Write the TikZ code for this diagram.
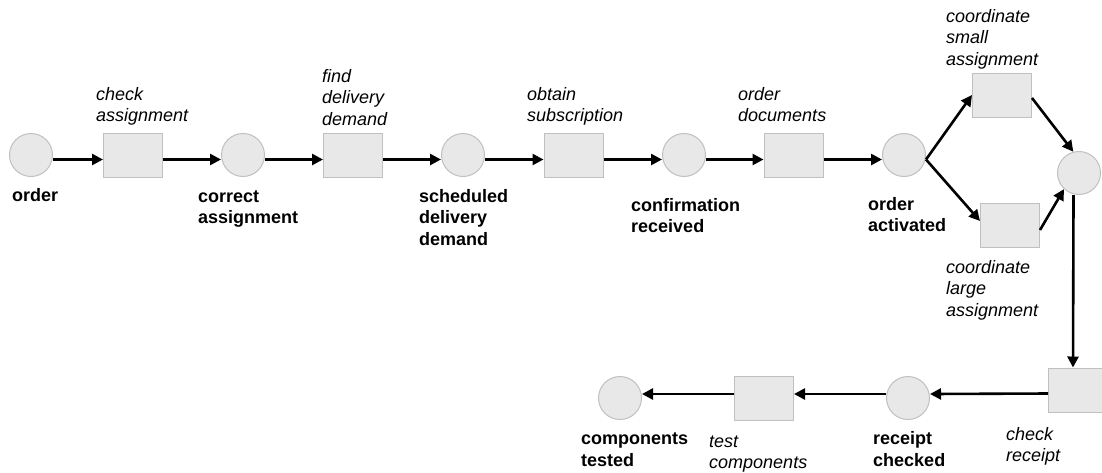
\documentclass[tikz,border=0pt]{standalone}
\usepackage{fontspec}
\setmainfont{Liberation Sans}
\usetikzlibrary{arrows.meta}
\definecolor{shapefill}{HTML}{E8E8E8}
\definecolor{shapeline}{HTML}{C0C0C0}
\begin{document}
\begin{tikzpicture}[x=1pt,y=-1pt,
  place/.style={circle,draw=shapeline,fill=shapefill,line width=1pt,minimum size=43pt,inner sep=0pt},
  trans/.style={rectangle,draw=shapeline,fill=shapefill,line width=1pt,minimum width=59pt,minimum height=44pt,inner sep=0pt},
  plabel/.style={anchor=north west,inner sep=0pt,align=left,font=\fontsize{18}{21.5}\selectfont\bfseries},
  tlabel/.style={anchor=north west,inner sep=0pt,align=left,font=\fontsize{18}{21.5}\selectfont\itshape},
  flow/.style={-{Triangle[length=11pt,width=11pt]},line width=2.6pt}]
\clip (0,0) rectangle (1102,472);
\fill[white] (0,0) rectangle (1102,472);
% places
\node[place] (p1) at (31,155) {};
\node[place] (p2) at (243,155) {};
\node[place] (p3) at (463,155) {};
\node[place] (p4) at (684,155) {};
\node[place] (p5) at (904,155) {};
\node[place] (p6) at (1079,173) {};
\node[place] (p7) at (908,398) {};
\node[place] (p8) at (620,398) {};
% transitions
\node[trans] (t1) at (133,155) {};
\node[trans] (t2) at (353,155) {};
\node[trans] (t3) at (573.5,155) {};
\node[trans] (t4) at (793.5,155) {};
\node[trans] (t5) at (1002,95) {};
\node[trans] (t6) at (1010,225) {};
\node[trans] (t7) at (1078,390) {};
\node[trans] (t8) at (764,398) {};
% place labels
\node[plabel] (lp1) at (12,186) {\strut order};
\node[plabel] (lp2) at (198,187) {\strut correct\\assignment};
\node[plabel] (lp3) at (419,187) {\strut scheduled\\delivery\\demand};
\node[plabel] (lp4) at (631,196) {\strut confirmation\\received};
\node[plabel] (lp5) at (868,195) {\strut order\\activated};
\node[plabel] (lp7) at (873,429.5) {\strut receipt\\checked};
\node[plabel] (lp8) at (581,429.5) {\strut components\\tested};
% transition labels
\node[tlabel] (lt1) at (96,85) {\strut check\\assignment};
\node[tlabel] (lt2) at (322,67) {\strut find\\delivery\\demand};
\node[tlabel] (lt3) at (527,85) {\strut obtain\\subscription};
\node[tlabel] (lt4) at (738,85) {\strut order\\documents};
\node[tlabel] (lt5) at (946,7) {\strut coordinate\\small\\assignment};
\node[tlabel] (lt6) at (946,258) {\strut coordinate\\large\\assignment};
\node[tlabel] (lt7) at (1006,425) {\strut check\\receipt};
\node[tlabel] (lt8) at (709,432) {\strut test\\components};
% arcs
\draw[flow] ([yshift=-4.5pt]p1.east) -- ([yshift=-4.5pt]t1.west);
\draw[flow] ([yshift=-4.5pt]t1.east) -- ([yshift=-4.5pt]p2.west);
\draw[flow] ([yshift=-4.5pt]p2.east) -- ([yshift=-4.5pt]t2.west);
\draw[flow] ([yshift=-4.5pt]t2.east) -- ([yshift=-4.5pt]p3.west);
\draw[flow] ([yshift=-4.5pt]p3.east) -- ([yshift=-4.5pt]t3.west);
\draw[flow] ([yshift=-4.5pt]t3.east) -- ([yshift=-4.5pt]p4.west);
\draw[flow] ([yshift=-4.5pt]p4.east) -- ([yshift=-4.5pt]t4.west);
\draw[flow] ([yshift=-4.5pt]t4.east) -- ([yshift=-4.5pt]p5.west);
\draw[flow] ([yshift=-4.5pt]p5.east) -- (t5.west);
\draw[flow] ([yshift=-4.5pt]p5.east) -- ([yshift=4pt]t6.west);
\draw[flow] ([yshift=-3pt]t5.east) -- (p6.105);
\draw[flow] ([yshift=-5pt]t6.east) -- (p6.227);
\draw[flow] ([xshift=-5.5pt]p6.south) -- ([xshift=-5pt]t7.north);
\draw[flow] ([yshift=-3.5pt]t7.west) -- ([yshift=4pt]p7.east);
\draw[flow] ([yshift=4pt]p7.west) -- ([yshift=4pt]t8.east);
\draw[flow] ([yshift=4pt]t8.west) -- ([yshift=4pt]p8.east);
\end{tikzpicture}
\end{document}
